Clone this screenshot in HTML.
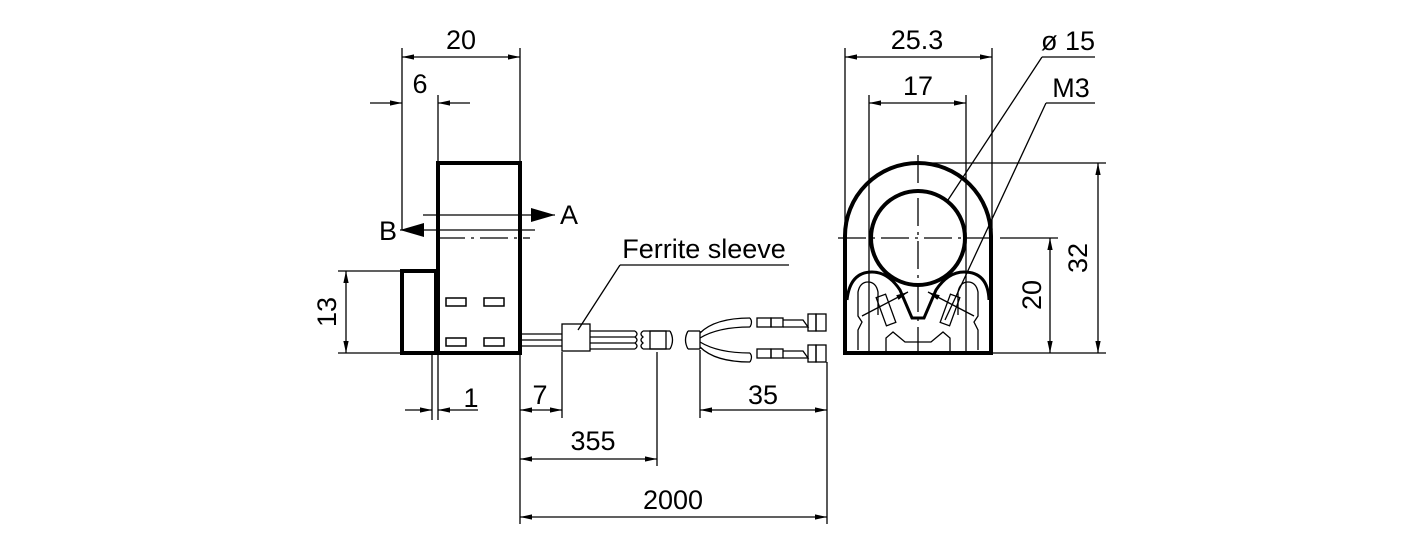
<!DOCTYPE html>
<html><head><meta charset="utf-8"><style>
html,body{margin:0;padding:0;background:#fff;}
svg{display:block;}
text{font-family:"Liberation Sans",sans-serif;font-size:27px;fill:#000;}
</style></head><body>
<svg width="1417" height="543" viewBox="0 0 1417 543" xmlns="http://www.w3.org/2000/svg">
<defs>
<marker id="ar" viewBox="0 0 10 10" refX="10" refY="5" markerWidth="12" markerHeight="12" markerUnits="userSpaceOnUse" orient="auto-start-reverse"><path d="M0,2.8 L10,5 L0,7.2 Z" fill="#000"/></marker>
<marker id="big" viewBox="0 0 10 10" refX="10" refY="5" markerWidth="24" markerHeight="14" markerUnits="userSpaceOnUse" orient="auto-start-reverse" preserveAspectRatio="none"><path d="M0,0 L10,5 L0,10 Z" fill="#000"/></marker>
</defs>
<g fill="none" stroke="#000" stroke-width="1.3">
<line x1="402" y1="48" x2="402" y2="230"/>
<line x1="520" y1="48" x2="520" y2="163"/>
<line x1="438" y1="95" x2="438" y2="163"/>
<line x1="338" y1="271" x2="402" y2="271"/>
<line x1="338" y1="353" x2="402" y2="353"/>
<line x1="432" y1="353" x2="432" y2="420"/>
<line x1="438" y1="353" x2="438" y2="420"/>
<line x1="520" y1="353" x2="520" y2="524"/>
<line x1="562" y1="352" x2="562" y2="418"/>
<line x1="657" y1="352" x2="657" y2="466"/>
<line x1="700" y1="350" x2="700" y2="418"/>
<line x1="827" y1="362" x2="827" y2="524"/>
<line x1="402" y1="57" x2="520" y2="57" marker-start="url(#ar)" marker-end="url(#ar)"/>
<line x1="370" y1="103" x2="402" y2="103" marker-end="url(#ar)"/>
<line x1="470" y1="103" x2="438" y2="103" marker-end="url(#ar)"/>
<line x1="346" y1="271" x2="346" y2="353" marker-start="url(#ar)" marker-end="url(#ar)"/>
<line x1="405" y1="410" x2="432" y2="410" marker-end="url(#ar)"/>
<line x1="478" y1="410" x2="438" y2="410" marker-end="url(#ar)"/>
<line x1="520" y1="410" x2="562" y2="410" marker-start="url(#ar)" marker-end="url(#ar)"/>
<line x1="520" y1="459" x2="657" y2="459" marker-start="url(#ar)" marker-end="url(#ar)"/>
<line x1="700" y1="410" x2="827" y2="410" marker-start="url(#ar)" marker-end="url(#ar)"/>
<line x1="520" y1="517" x2="827" y2="517" marker-start="url(#ar)" marker-end="url(#ar)"/>
<line x1="423" y1="215" x2="555" y2="215" marker-end="url(#big)"/>
<line x1="535" y1="230" x2="400" y2="230" marker-end="url(#big)"/>
<line x1="437" y1="238" x2="530" y2="238" stroke-dasharray="28,6,3,6"/>
<line x1="520" y1="334" x2="562" y2="334"/><line x1="520" y1="340" x2="562" y2="340"/><line x1="520" y1="346" x2="562" y2="346"/>
<rect x="562" y="324" width="28" height="27" fill="#fff"/>
<line x1="590" y1="331" x2="635" y2="331"/><line x1="590" y1="337" x2="635" y2="337"/><line x1="590" y1="343" x2="635" y2="343"/><line x1="590" y1="349" x2="635" y2="349"/>
<path d="M635,331 q4,3 0,6 q4,3 0,6 q4,3 0,6"/>
<path d="M643,331 q-4,3 0,6 q-4,3 0,6 q-4,3 0,6"/>
<line x1="643" y1="331" x2="670" y2="331"/><line x1="643" y1="349" x2="670" y2="349"/>
<rect x="650" y="331" width="16" height="18"/>
<path d="M670,331 q5,9 0,18"/>
<path d="M688,331 q-5,9 0,18"/>
<line x1="688" y1="331" x2="700" y2="331"/><line x1="688" y1="349" x2="700" y2="349"/><line x1="700" y1="331" x2="700" y2="349"/>
<path d="M700,333 Q715,318 750,318"/><path d="M700,338 Q718,327 750,327"/>
<path d="M700,342 Q718,353 750,353"/><path d="M700,347 Q715,362 750,362"/>
<path d="M750,318 q3,4 0,9"/><path d="M750,353 q3,4 0,9"/>
<rect x="757" y="318" width="14" height="9"/><rect x="771" y="318" width="12" height="9"/><path d="M783,320 L803,320 L808,327 L783,327"/><rect x="808" y="314" width="8" height="17"/><rect x="816" y="314" width="10" height="17"/>
<rect x="757" y="349" width="14" height="9"/><rect x="771" y="349" width="12" height="9"/><path d="M783,351 L803,351 L808,358 L783,358"/><rect x="808" y="345" width="8" height="17"/><rect x="816" y="345" width="10" height="17"/>
<line x1="620" y1="265" x2="789" y2="265"/>
<line x1="620" y1="265" x2="578" y2="330"/>
<line x1="845" y1="48" x2="845" y2="230"/>
<line x1="992" y1="48" x2="992" y2="230"/>
<line x1="869" y1="95" x2="869" y2="353"/>
<line x1="966" y1="95" x2="966" y2="353"/>
<line x1="845" y1="57" x2="992" y2="57" marker-start="url(#ar)" marker-end="url(#ar)"/>
<line x1="869" y1="103" x2="966" y2="103" marker-start="url(#ar)" marker-end="url(#ar)"/>
<line x1="918" y1="163" x2="1106" y2="163"/>
<line x1="992" y1="353" x2="1106" y2="353"/>
<line x1="1000" y1="238" x2="1058" y2="238"/>
<line x1="1098" y1="163" x2="1098" y2="353" marker-start="url(#ar)" marker-end="url(#ar)"/>
<line x1="1050" y1="238" x2="1050" y2="353" marker-start="url(#ar)" marker-end="url(#ar)"/>
<line x1="1042" y1="57" x2="1095" y2="57"/><line x1="1042" y1="57" x2="948" y2="200"/>
<line x1="1046" y1="103" x2="1095" y2="103"/><line x1="1046" y1="103" x2="945" y2="320"/>
<line x1="838" y1="238" x2="990" y2="238" stroke-dasharray="28,6,3,6"/>
<line x1="918" y1="155" x2="918" y2="355" stroke-dasharray="28,6,3,6"/>
<path d="M858,350 L858,330 L862,322 L858,316 L858,292 Q860,282 868,282 Q876,282 878,292 L878,315"/>
<path d="M978,350 L978,330 L974,322 L978,316 L978,292 Q976,282 968,282 Q960,282 958,292 L958,315"/>
<path d="M886,352 L886,338 L893,332 L905,342 L931,342 L943,332 L950,338 L950,352"/>
<rect x="881" y="295" width="10" height="30" transform="rotate(-20 886 310)"/>
<rect x="945" y="295" width="10" height="30" transform="rotate(20 950 310)"/>
<line x1="862" y1="316" x2="908" y2="292" marker-end="url(#ar)"/>
<line x1="974" y1="316" x2="928" y2="292" marker-end="url(#ar)"/>
</g>
<g fill="none" stroke="#000" stroke-width="3">
<path d="M847,300 Q850,272 872,272 Q888,272 900,290 L912,318 L924,318 L936,290 Q948,272 964,272 Q988,272 989,300"/>
</g>
<g fill="none" stroke="#000" stroke-width="4">
<rect x="438" y="163" width="82" height="190"/>
<rect x="402" y="271" width="34" height="82"/>
<path d="M845,353 L845,236 A73,73 0 0 1 991,236 L991,353 Z"/>
<circle cx="918" cy="238" r="47"/>
</g>
<g fill="none" stroke="#000" stroke-width="1.5">
<rect x="446" y="298" width="20" height="8"/><rect x="484" y="298" width="20" height="8"/>
<rect x="446" y="338" width="20" height="8"/><rect x="484" y="338" width="20" height="8"/>
</g>
<text x="461" y="49" text-anchor="middle">20</text>
<text x="420" y="93" text-anchor="middle">6</text>
<text x="336" y="312" text-anchor="middle" transform="rotate(-90 336 312)">13</text>
<text x="471" y="407" text-anchor="middle">1</text>
<text x="540" y="404" text-anchor="middle">7</text>
<text x="593" y="450" text-anchor="middle">355</text>
<text x="763" y="404" text-anchor="middle">35</text>
<text x="673" y="509" text-anchor="middle">2000</text>
<text x="569" y="224" text-anchor="middle">A</text>
<text x="388" y="240" text-anchor="middle">B</text>
<text x="704" y="258" text-anchor="middle">Ferrite sleeve</text>
<text x="917" y="49" text-anchor="middle">25.3</text>
<text x="918" y="95" text-anchor="middle">17</text>
<text x="1068" y="50" text-anchor="middle">ø 15</text>
<text x="1071" y="97" text-anchor="middle">M3</text>
<text x="1087" y="258" text-anchor="middle" transform="rotate(-90 1087 258)">32</text>
<text x="1041" y="295" text-anchor="middle" transform="rotate(-90 1041 295)">20</text>
</svg>
</body></html>
